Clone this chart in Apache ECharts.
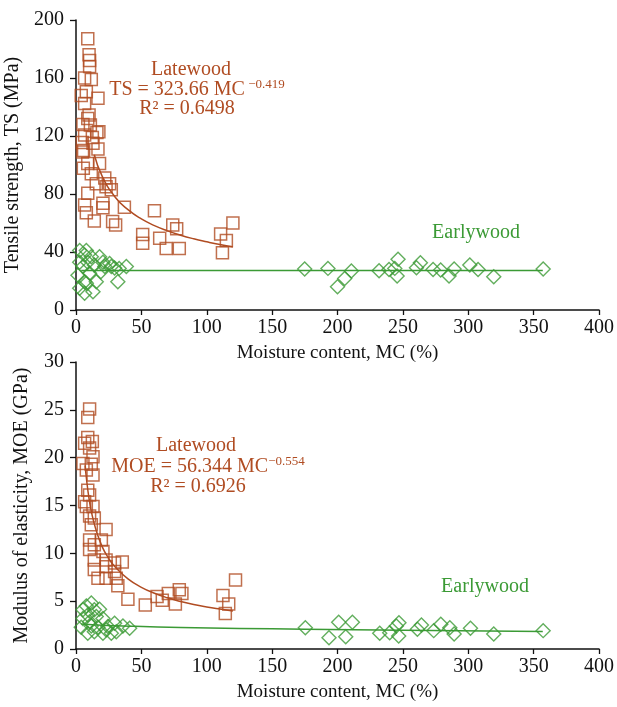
<!DOCTYPE html>
<html>
<head>
<meta charset="utf-8">
<title>TS and MOE vs moisture content</title>
<script src="https://cdn.jsdelivr.net/npm/echarts@6/dist/echarts.min.js"></script>
<style>
  html, body { margin: 0; padding: 0; background: #fff; }
  #main { width: 617px; height: 707px; }
</style>
</head>
<body>
<div id="main"></div>
<script>
// [MC %, TS MPa] latewood
var lateTS = [
  [9,187],[10,176],[10.4,172],[10.4,168],[6.6,160],[11.7,159],[4,148],[7.9,150.5],[16.8,146],
  [6.6,142.5],[10,134.5],[9,132],[5.3,128],[11,127.6],[16,122.5],[17.5,123],[6.6,120.7],[12.5,119],
  [4.8,115.6],[13,115],[5.8,110],[16.8,111],[5,109],[9,101],[18,101],[5.6,97.7],[11.7,94],[15.5,87],
  [22,91],[25.7,87],[27,83],[23,85],[9,80.5],[6.6,72.4],[20.6,73.6],[20.6,70.6],[7.9,67],[14,61.4],
  [28,61],[30.3,58.6],[37,70.8],[60,68.5],[51,52],[51,46],[64,49.4],[69,42.5],[74,58.6],[77,56],
  [79,42.5],[110.6,52.4],[115,48],[112,39.5],[120,60]
];
// [MC %, TS MPa] earlywood
var earlyTS = [
  [2.8,41],[7.9,41],[6.6,38],[11.7,36.8],[2.8,33],[9,33],[18,36.8],[20.6,33],[14,31],[5.3,30],
  [22,30],[27,30],[38.5,30],[33,28.7],[1.5,24],[10.4,25.3],[19,26.4],[6.6,19.5],[15.5,19.5],
  [32,19.5],[2.8,15],[7.9,18.4],[13,12.6],[6.6,11.5],[25.7,32],[29.5,29],
  [174.9,28.3],[192.7,28.7],[210.6,26.9],[205.5,21.8],[200,16.1],[231.8,27.1],[239.4,28],
  [246.3,35],[243.8,28.7],[245.6,23.4],[260.4,29.2],[263.4,32.6],[273.1,28],[278.9,27.6],
  [285.3,23.4],[289.2,28.3],[301.2,31],[307.5,28],[319.5,23],[357.3,28.3]
];
// fitted curves
var lateTSFit = [
  [14,107.1],[20,92.3],[30,77.8],[40,69.0],[50,62.8],[60,58.2],[70,54.6],[80,51.6],
  [90,49.1],[100,47.0],[110,45.1],[120,43.5]
];
var earlyTSFit = [[4,27.2],[357,27.2]];

// [MC %, MOE GPa] latewood
var lateMOE = [
  [10.4,25.1],[9,24.2],[9,22.1],[12.5,21.7],[10.4,21.0],[6.6,21.5],[5.3,19.4],[11.7,19.3],
  [13,20.1],[7.9,18.7],[13,18.2],[9,16.6],[10.4,16.1],[6.6,15.4],[7.9,14.9],[13,14.9],
  [10.4,13.9],[14,13.7],[11.7,13],[23,12.5],[10.4,11.4],[19.4,11.4],[14,10.9],[10.4,10.4],
  [20.6,10.2],[14,9.3],[23,9.3],[29.5,9.0],[35.4,9.1],[14,8.3],[23,8.6],[29.5,8.1],
  [16.8,7.4],[23,7.4],[30.8,7.4],[32,6.6],[39.7,5.2],[53,4.6],[62,5.5],[66,5.1],[70.6,5.8],
  [76,4.7],[79,6.2],[81,5.8],[112.4,5.6],[116.8,4.7],[114.2,3.7],[122,7.2]
];
// [MC %, MOE GPa] earlywood
var earlyMOE = [
  [7.9,4.5],[11.7,4.8],[5.3,4.1],[14,4.1],[18,4.15],[9,3.56],[5.3,3.2],[15.5,3.4],[20.6,3.2],
  [4,2.27],[11.7,2.4],[16.8,2.27],[9,1.64],[14,1.81],[20.6,1.64],[24.4,2.34],[29.5,2.69],
  [30.8,1.81],[35.9,2.41],[41,2.17],[10.4,2.86],[23,2.0],[27,1.64],
  [175.4,2.23],[193.5,1.18],[200.9,2.79],[206.3,1.29],[211.4,2.79],[232.3,1.64],[239.9,1.71],
  [245,2.41],[247,2.75],[246.8,1.36],[261.1,2.06],[264.2,2.51],[273.6,1.92],[279,2.59],
  [285.9,2.23],[289.2,1.57],[301.7,2.17],[319.5,1.57],[357.3,1.92]
];
var lateMOEFit = [
  [7,19.2],[8,17.8],[10,15.7],[12,14.2],[15,12.6],[20,10.7],[25,9.47],[30,8.56],[40,7.30],
  [50,6.45],[60,5.83],[70,5.35],[80,4.97],[90,4.65],[100,4.39],[110,4.17],[120,3.97]
];
var earlyMOEFit = [
  [4,2.62],[10,2.55],[20,2.47],[45,2.37],[80,2.25],[125,2.15],[175,2.07],[250,1.95],[357,1.82]
];

var lateColor = "#b04c22";
var earlyColor = "#3b9a35";
var font = "Liberation Serif";

var myChart = echarts.init(document.getElementById("main"));

function xAxisCfg(gridIndex) {
  return {
    gridIndex: gridIndex,
    type: "value",
    min: 0, max: 400, interval: 50,
    name: "Moisture content, MC (%)",
    nameLocation: "middle",
    nameGap: 34,
    nameTextStyle: { fontFamily: font, fontSize: 19, color: "#111" },
    axisLine: { lineStyle: { color: "#111", width: 1.5 } },
    axisTick: { show: true, length: 5, lineStyle: { color: "#111", width: 1.3 } },
    axisLabel: { fontFamily: font, fontSize: 20, color: "#111", margin: 8 },
    splitLine: { show: false }
  };
}
function yAxisCfg(gridIndex, name, max, interval) {
  return {
    gridIndex: gridIndex,
    type: "value",
    min: 0, max: max, interval: interval,
    name: name,
    nameLocation: "middle",
    nameGap: 44,
    nameTextStyle: { fontFamily: font, fontSize: 20, color: "#111" },
    axisLine: { show: true, lineStyle: { color: "#111", width: 1.5 } },
    axisTick: { show: true, length: 6, lineStyle: { color: "#111", width: 1.3 } },
    axisLabel: { fontFamily: font, fontSize: 20, color: "#111", margin: 12 },
    splitLine: { show: false }
  };
}
function squares(data, xi) {
  return {
    type: "scatter", xAxisIndex: xi, yAxisIndex: xi, data: data,
    symbol: "rect", symbolSize: 12,
    itemStyle: { color: "rgba(255,255,255,0)", borderColor: lateColor, borderWidth: 1.5 },
    z: 3
  };
}
function diamonds(data, xi) {
  return {
    type: "scatter", xAxisIndex: xi, yAxisIndex: xi, data: data,
    symbol: "diamond", symbolSize: [14, 14],
    itemStyle: { color: "rgba(255,255,255,0)", borderColor: earlyColor, borderWidth: 1.4 },
    z: 3
  };
}
function fitLine(data, xi, color) {
  return {
    type: "line", xAxisIndex: xi, yAxisIndex: xi, data: data,
    smooth: true, showSymbol: false, silent: true,
    lineStyle: { color: color, width: 1.5 },
    z: 2
  };
}
function label(x, y, text, color) {
  return {
    type: "text", x: x, y: y,
    style: { text: text, fontFamily: font, fontSize: 20, fill: color, align: "center", verticalAlign: "middle" }
  };
}
function equation(x, y, main, sup) {
  return {
    type: "text", x: x, y: y,
    style: {
      text: "{a|" + main + "}{s|" + sup + "}",
      align: "center", verticalAlign: "middle",
      rich: {
        a: { fontFamily: font, fontSize: 20, fill: lateColor, lineHeight: 24 },
        s: { fontFamily: font, fontSize: 13, fill: lateColor, verticalAlign: "top", lineHeight: 24, padding: [0, 0, 9, 0] }
      }
    }
  };
}

var option = {
  animation: false,
  backgroundColor: "#fff",
  grid: [
    { left: 76, top: 20, width: 523, height: 290, containLabel: false, outerBoundsMode: "none" },
    { left: 76, top: 362, width: 523, height: 287, containLabel: false, outerBoundsMode: "none" }
  ],
  xAxis: [xAxisCfg(0), xAxisCfg(1)],
  yAxis: [
    yAxisCfg(0, "Tensile strength, TS (MPa)", 200, 40),
    yAxisCfg(1, "Modulus of elasticity, MOE (GPa)", 30, 5)
  ],
  series: [
    diamonds(earlyTS, 0),
    squares(lateTS, 0),
    fitLine(earlyTSFit, 0, earlyColor),
    fitLine(lateTSFit, 0, lateColor),
    diamonds(earlyMOE, 1),
    squares(lateMOE, 1),
    fitLine(earlyMOEFit, 1, earlyColor),
    fitLine(lateMOEFit, 1, lateColor)
  ],
  graphic: [
    label(191, 70, "Latewood", lateColor),
    equation(197, 90, "TS = 323.66 MC", " −0.419"),
    label(187, 109, "R² = 0.6498", lateColor),
    label(476, 233, "Earlywood", earlyColor),

    label(196, 446, "Latewood", lateColor),
    equation(208, 467, "MOE = 56.344 MC", "−0.554"),
    label(198, 487, "R² = 0.6926", lateColor),
    label(485, 587, "Earlywood", earlyColor)
  ]
};

myChart.setOption(option);
</script>
</body>
</html>
